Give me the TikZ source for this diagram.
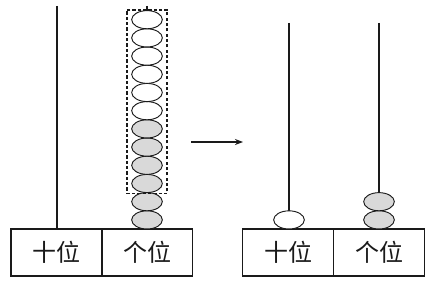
\documentclass[tikz,border=0pt]{standalone}
\usepackage{fontspec}
\newfontfamily\cjk{Noto Sans CJK SC}
\usetikzlibrary{arrows.meta, shapes.geometric, fit}
\definecolor{ink}{HTML}{1A1A1A}
\definecolor{beadgray}{HTML}{D9D9D9}
\tikzset{
  >={Stealth[length=6pt, width=4.5pt]},
  %
  cell/.style={draw=ink, line width=1.1pt, minimum width=68pt, minimum height=35pt,
               inner sep=0pt, font=\cjk\fontsize{18}{18}\selectfont, text=ink},
  rod/.style={draw=ink, line width=1.5pt},
  %
  bead/.style={ellipse, draw=ink, line width=0.7pt, fill=white,
               minimum width=23pt, minimum height=13.6pt, inner sep=0pt},
  beadg/.style={bead, fill=beadgray},
  %
  group/.style={draw=ink, line width=1.3pt, dash pattern=on 2.4pt off 1.6pt,
                inner xsep=3.4pt, inner ysep=0.3pt},
  flow/.style={draw=ink, line width=1pt, ->},
}
\begin{document}
\begin{tikzpicture}[x=0.75pt, y=-0.75pt]

  \useasboundingbox (0,0) rectangle (434,284);

  % before
  \node[cell] (ten1) at (56.5,252.5) {十位};
  \node[cell] (one1) at (147,252.5)  {个位};

  \coordinate (tentop1) at (57,6);
  \coordinate (onetop1) at (147,6);
  \draw[rod] (tentop1) -- (tentop1 |- ten1.north);
  \draw[rod] (onetop1) -- (onetop1 |- one1.north);

  \foreach \k in {0,...,11} {
    \ifnum\k<6
      \node[beadg] (b\k) at (147,{229-9.1-18.2*\k}) {};
    \else
      \node[bead] (b\k) at (147,{229-9.1-18.2*\k}) {};
    \fi
  }

  \node[group, fit=(b2)(b11)] (ten) {};

  % arrow
  \coordinate (from) at (191,142);
  \coordinate (to)   at (243,142);
  \draw[flow] (from) -- (to);

  % after
  \node[cell] (ten2) at (288,252.5) {十位};
  \node[cell] (one2) at (379,252.5) {个位};

  \coordinate (tentop2) at (289,23);
  \coordinate (onetop2) at (379,23);
  \draw[rod] (tentop2) -- (tentop2 |- ten2.north);
  \draw[rod] (onetop2) -- (onetop2 |- one2.north);

  \node[bead]  (c0) at (289,219.9) {};
  \node[beadg] (d0) at (379,219.9) {};
  \node[beadg] (d1) at (379,201.7) {};

\end{tikzpicture}
\end{document}
